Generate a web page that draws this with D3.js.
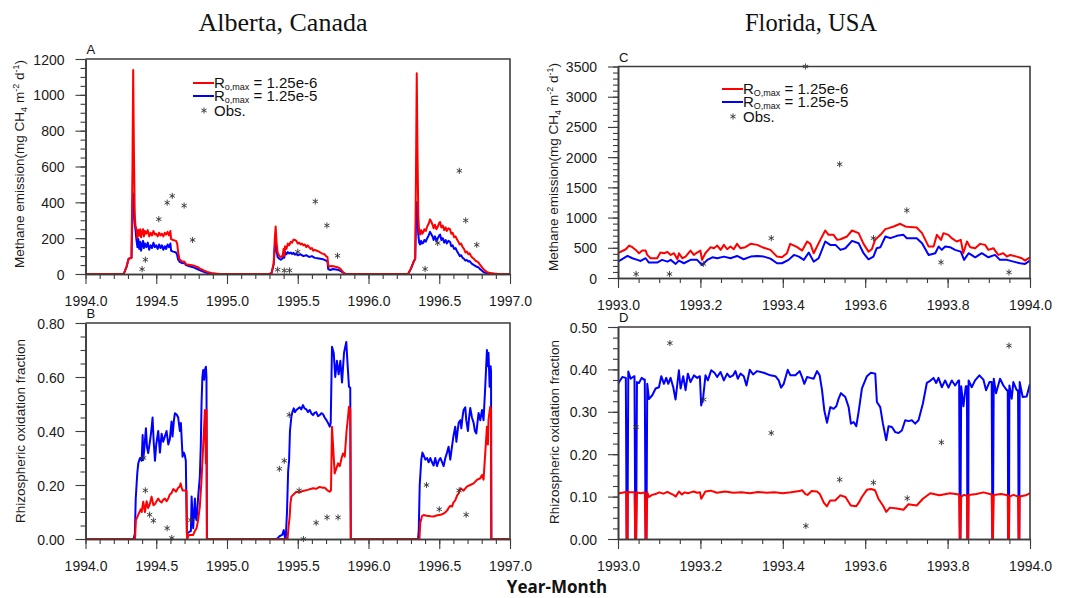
<!DOCTYPE html>
<html><head><meta charset="utf-8">
<script src="https://cdn.jsdelivr.net/npm/d3@7/dist/d3.min.js"></script>
<style>body{margin:0;background:#fff;} svg{display:block;font-family:"Liberation Sans",Arial,Helvetica,sans-serif;}</style>
</head><body><svg id="c" width="1066" height="598"></svg>
<script>
// ---------------- tick labels ----------------
const albertaXTicks = [1994.0,1994.5,1995.0,1995.5,1996.0,1996.5,1997.0];
const floridaXTicks = [1993.0,1993.2,1993.4,1993.6,1993.8,1994.0];
const emisAYTicks = [0,200,400,600,800,1000,1200];
const fracBYTicks = [0,0.2,0.4,0.6,0.8];
const emisCYTicks = [0,500,1000,1500,2000,2500,3000,3500];
const fracDYTicks = [0,0.1,0.2,0.3,0.4,0.5];
const legendLow = "1.25e-6", legendHigh = "1.25e-5";

// ---------------- Panel A: Alberta methane emission ----------------
const albertaEmisLow = [
[1994.0,0],[1994.27,0],[1994.29,40],[1994.305,85],[1994.325,90],[1994.332,600],[1994.337,1139],[1994.342,700],[1994.348,330],[1994.353,270],[1994.36,250],[1994.367,200],[1994.373,245],[1994.38,215],[1994.387,250],[1994.393,205],[1994.4,235],[1994.407,250],[1994.413,210],[1994.42,240],[1994.43,225],[1994.44,245],[1994.45,210],[1994.46,230],[1994.47,215],[1994.48,240],[1994.49,220],[1994.5,225],[1994.51,210],[1994.52,230],[1994.53,215],[1994.54,225],[1994.55,210],[1994.56,230],[1994.57,220],[1994.58,235],[1994.59,215],[1994.6,240],[1994.605,195],[1994.62,190],[1994.64,185],[1994.648,170],[1994.655,120],[1994.665,80],[1994.68,72],[1994.7,68],[1994.71,55],[1994.73,52],[1994.76,48],[1994.79,40],[1994.81,30],[1994.835,20],[1994.86,12],[1994.89,6],[1994.93,2],[1994.95,0],
[1995.3,0],[1995.315,5],[1995.33,60],[1995.338,200],[1995.344,265],[1995.35,180],[1995.358,120],[1995.37,100],[1995.38,95],[1995.39,100],[1995.395,110],[1995.4,140],[1995.405,100],[1995.41,155],[1995.42,140],[1995.43,170],[1995.44,160],[1995.45,180],[1995.46,175],[1995.47,192],[1995.48,190],[1995.49,185],[1995.5,170],[1995.51,175],[1995.52,165],[1995.53,170],[1995.54,160],[1995.55,165],[1995.56,150],[1995.57,160],[1995.58,150],[1995.59,140],[1995.6,145],[1995.61,130],[1995.62,135],[1995.635,130],[1995.65,125],[1995.66,120],[1995.67,115],[1995.68,112],[1995.69,110],[1995.7,100],[1995.71,95],[1995.715,50],[1995.725,42],[1995.74,45],[1995.76,42],[1995.78,38],[1995.8,30],[1995.81,20],[1995.82,10],[1995.83,4],[1995.84,0],
[1996.28,0],[1996.3,30],[1996.32,70],[1996.33,85],[1996.336,600],[1996.341,1120],[1996.346,700],[1996.352,320],[1996.358,240],[1996.365,220],[1996.372,245],[1996.38,225],[1996.388,235],[1996.395,250],[1996.405,240],[1996.415,265],[1996.425,280],[1996.435,305],[1996.445,290],[1996.455,270],[1996.46,255],[1996.47,275],[1996.48,250],[1996.49,265],[1996.5,285],[1996.506,290],[1996.515,260],[1996.525,270],[1996.535,245],[1996.545,260],[1996.553,240],[1996.565,255],[1996.576,250],[1996.585,225],[1996.595,230],[1996.605,205],[1996.615,210],[1996.624,195],[1996.635,180],[1996.645,165],[1996.655,170],[1996.665,150],[1996.675,140],[1996.685,120],[1996.695,125],[1996.706,110],[1996.715,115],[1996.725,100],[1996.735,90],[1996.745,85],[1996.755,75],[1996.765,70],[1996.776,65],[1996.785,55],[1996.8,40],[1996.815,25],[1996.835,12],[1996.86,5],[1996.9,2],[1996.92,0],[1997.0,0]];
const albertaEmisHigh = [
[1994.0,0],[1994.27,0],[1994.29,40],[1994.305,85],[1994.325,90],[1994.332,350],[1994.337,450],[1994.342,380],[1994.348,280],[1994.353,250],[1994.36,190],[1994.367,150],[1994.373,195],[1994.38,140],[1994.387,180],[1994.393,130],[1994.4,165],[1994.407,185],[1994.413,145],[1994.42,170],[1994.43,150],[1994.44,175],[1994.45,135],[1994.46,160],[1994.47,145],[1994.48,175],[1994.49,150],[1994.5,160],[1994.51,140],[1994.52,165],[1994.53,145],[1994.54,160],[1994.55,135],[1994.56,155],[1994.57,140],[1994.58,165],[1994.59,150],[1994.6,170],[1994.605,130],[1994.62,125],[1994.64,120],[1994.648,105],[1994.655,80],[1994.665,68],[1994.68,62],[1994.7,60],[1994.71,50],[1994.73,45],[1994.76,38],[1994.79,28],[1994.81,20],[1994.835,12],[1994.86,6],[1994.89,2],[1994.92,0],
[1995.3,0],[1995.315,5],[1995.33,55],[1995.338,150],[1995.344,180],[1995.35,130],[1995.358,95],[1995.37,85],[1995.38,80],[1995.39,85],[1995.395,95],[1995.4,120],[1995.405,90],[1995.41,125],[1995.42,110],[1995.43,122],[1995.44,115],[1995.45,120],[1995.46,112],[1995.47,118],[1995.48,108],[1995.49,112],[1995.5,105],[1995.52,110],[1995.54,100],[1995.56,105],[1995.58,95],[1995.6,100],[1995.62,90],[1995.64,88],[1995.66,85],[1995.68,82],[1995.7,75],[1995.71,70],[1995.715,28],[1995.73,22],[1995.75,28],[1995.77,25],[1995.79,22],[1995.8,18],[1995.815,10],[1995.83,3],[1995.84,0],
[1996.28,0],[1996.3,30],[1996.32,70],[1996.33,85],[1996.336,300],[1996.341,400],[1996.346,300],[1996.352,220],[1996.358,175],[1996.365,165],[1996.372,185],[1996.38,170],[1996.388,175],[1996.395,190],[1996.405,180],[1996.415,200],[1996.425,215],[1996.435,235],[1996.445,220],[1996.455,205],[1996.46,190],[1996.47,210],[1996.48,185],[1996.49,200],[1996.5,215],[1996.506,220],[1996.515,190],[1996.525,200],[1996.535,175],[1996.545,190],[1996.553,170],[1996.565,185],[1996.576,180],[1996.585,155],[1996.595,160],[1996.605,140],[1996.615,145],[1996.624,130],[1996.635,115],[1996.645,100],[1996.655,105],[1996.665,90],[1996.675,85],[1996.685,75],[1996.695,78],[1996.706,70],[1996.715,72],[1996.725,62],[1996.735,55],[1996.745,50],[1996.755,45],[1996.765,40],[1996.776,38],[1996.785,30],[1996.8,20],[1996.815,10],[1996.835,5],[1996.86,2],[1996.88,0],[1997.0,0]];
const albertaEmisObs = [[1994.40,27],[1994.423,80],[1994.518,306],[1994.577,398],[1994.613,436],[1994.697,382],[1994.757,190],[1995.358,24],[1995.405,19],[1995.442,20],[1995.50,124],[1995.624,405],[1995.706,271],[1995.781,102],[1996.40,28],[1996.489,173],[1996.642,576],[1996.687,299],[1996.765,163]];

// ---------------- Panel B: Alberta rhizospheric oxidation fraction ----------------
const albertaFracLow = [
[1994.0,0],[1994.35,0],[1994.356,0.07],[1994.365,0.08],[1994.373,0.09],[1994.39,0.11],[1994.397,0.10],[1994.408,0.138],[1994.42,0.10],[1994.432,0.14],[1994.443,0.115],[1994.455,0.13],[1994.467,0.157],[1994.48,0.125],[1994.491,0.13],[1994.514,0.15],[1994.526,0.14],[1994.538,0.135],[1994.549,0.145],[1994.561,0.15],[1994.573,0.14],[1994.585,0.15],[1994.596,0.165],[1994.608,0.17],[1994.62,0.185],[1994.632,0.18],[1994.639,0.175],[1994.655,0.19],[1994.667,0.195],[1994.672,0.206],[1994.68,0.19],[1994.686,0.18],[1994.714,0.18],[1994.718,0],[1994.73,0.015],[1994.761,0.015],[1994.773,0.03],[1994.785,0.04],[1994.796,0.07],[1994.808,0.12],[1994.82,0.22],[1994.832,0.35],[1994.844,0.478],[1994.851,0.28],[1994.855,0.478],[1994.858,0],
[1995.428,0],[1995.436,0.05],[1995.443,0.083],[1995.448,0.13],[1995.455,0.157],[1995.47,0.165],[1995.49,0.175],[1995.51,0.172],[1995.537,0.178],[1995.57,0.182],[1995.608,0.188],[1995.63,0.186],[1995.655,0.193],[1995.675,0.19],[1995.691,0.19],[1995.71,0.18],[1995.726,0.175],[1995.735,0.18],[1995.742,0.416],[1995.748,0.36],[1995.754,0.305],[1995.761,0.243],[1995.772,0.26],[1995.785,0.28],[1995.797,0.27],[1995.81,0.30],[1995.82,0.317],[1995.832,0.305],[1995.845,0.40],[1995.855,0.45],[1995.862,0.49],[1995.871,0.48],[1995.875,0],
[1996.36,0],[1996.366,0.06],[1996.378,0.085],[1996.39,0.089],[1996.41,0.086],[1996.425,0.085],[1996.44,0.084],[1996.46,0.083],[1996.475,0.086],[1996.496,0.089],[1996.51,0.09],[1996.531,0.094],[1996.545,0.10],[1996.555,0.105],[1996.566,0.115],[1996.578,0.123],[1996.59,0.12],[1996.6,0.135],[1996.613,0.143],[1996.625,0.16],[1996.637,0.169],[1996.651,0.188],[1996.672,0.179],[1996.695,0.194],[1996.719,0.20],[1996.743,0.206],[1996.766,0.219],[1996.79,0.225],[1996.802,0.237],[1996.813,0.22],[1996.825,0.317],[1996.837,0.416],[1996.844,0.35],[1996.848,0.44],[1996.86,0.49],[1996.866,0.48],[1996.868,0],[1997.0,0]];
const albertaFracHigh = [
[1994.0,0],[1994.34,0],[1994.349,0.02],[1994.355,0.15],[1994.366,0.244],[1994.373,0.28],[1994.385,0.30],[1994.397,0.29],[1994.404,0.385],[1994.408,0.293],[1994.415,0.33],[1994.427,0.41],[1994.435,0.34],[1994.443,0.318],[1994.455,0.36],[1994.465,0.40],[1994.474,0.45],[1994.482,0.36],[1994.491,0.29],[1994.5,0.35],[1994.514,0.40],[1994.526,0.32],[1994.538,0.39],[1994.549,0.36],[1994.561,0.38],[1994.573,0.40],[1994.585,0.35],[1994.596,0.37],[1994.608,0.435],[1994.615,0.38],[1994.625,0.44],[1994.632,0.466],[1994.645,0.46],[1994.655,0.45],[1994.667,0.40],[1994.674,0.43],[1994.686,0.305],[1994.695,0.32],[1994.702,0.31],[1994.709,0.29],[1994.716,0.02],[1994.73,0.025],[1994.745,0.03],[1994.75,0.157],[1994.755,0.10],[1994.761,0.04],[1994.773,0.15],[1994.779,0.08],[1994.785,0.07],[1994.796,0.155],[1994.808,0.23],[1994.815,0.35],[1994.82,0.50],[1994.826,0.60],[1994.832,0.626],[1994.839,0.59],[1994.846,0.63],[1994.851,0.638],[1994.855,0.6],[1994.858,0],
[1995.35,0],[1995.361,0.005],[1995.373,0.011],[1995.39,0.015],[1995.401,0.033],[1995.41,0.005],[1995.415,0],[1995.424,0.1],[1995.432,0.25],[1995.439,0.293],[1995.445,0.40],[1995.455,0.453],[1995.462,0.47],[1995.472,0.484],[1995.48,0.47],[1995.49,0.478],[1995.5,0.482],[1995.514,0.488],[1995.525,0.48],[1995.537,0.496],[1995.548,0.484],[1995.561,0.48],[1995.572,0.47],[1995.585,0.478],[1995.596,0.465],[1995.608,0.459],[1995.62,0.468],[1995.631,0.47],[1995.643,0.455],[1995.655,0.459],[1995.667,0.466],[1995.679,0.462],[1995.69,0.45],[1995.702,0.441],[1995.714,0.43],[1995.726,0.416],[1995.733,0.43],[1995.742,0.712],[1995.754,0.69],[1995.765,0.60],[1995.777,0.66],[1995.789,0.61],[1995.801,0.66],[1995.813,0.58],[1995.827,0.69],[1995.843,0.73],[1995.853,0.64],[1995.862,0.564],[1995.871,0.56],[1995.875,0],
[1996.35,0],[1996.355,0.03],[1996.362,0.2],[1996.373,0.293],[1996.381,0.32],[1996.39,0.31],[1996.402,0.294],[1996.414,0.30],[1996.425,0.284],[1996.437,0.30],[1996.448,0.285],[1996.46,0.272],[1996.472,0.30],[1996.484,0.27],[1996.496,0.29],[1996.508,0.30],[1996.52,0.285],[1996.531,0.27],[1996.543,0.30],[1996.555,0.32],[1996.566,0.342],[1996.578,0.294],[1996.59,0.342],[1996.6,0.38],[1996.613,0.416],[1996.621,0.36],[1996.63,0.40],[1996.637,0.43],[1996.649,0.44],[1996.656,0.41],[1996.664,0.45],[1996.672,0.478],[1996.684,0.488],[1996.691,0.44],[1996.703,0.40],[1996.711,0.45],[1996.719,0.485],[1996.731,0.45],[1996.743,0.43],[1996.752,0.40],[1996.762,0.391],[1996.77,0.43],[1996.778,0.467],[1996.79,0.44],[1996.802,0.478],[1996.813,0.44],[1996.825,0.564],[1996.837,0.70],[1996.844,0.64],[1996.848,0.69],[1996.856,0.564],[1996.863,0.64],[1996.866,0.62],[1996.868,0],[1997.0,0]];
const albertaFracObs = [[1994.41,0.30],[1994.423,0.18],[1994.453,0.09],[1994.48,0.068],[1994.577,0.04],[1994.61,0.004],[1994.745,0.07],[1995.37,0.26],[1995.405,0.29],[1995.44,0.46],[1995.51,0.18],[1995.54,0.0],[1995.63,0.06],[1995.707,0.08],[1995.785,0.08],[1996.41,0.20],[1996.50,0.11],[1996.64,0.18],[1996.69,0.09]];

// ---------------- Panel C: Florida methane emission ----------------
const floridaEmisLow = [
[1993.0,410],[1993.019,476],[1993.027,537],[1993.035,510],[1993.043,465],[1993.051,410],[1993.059,454],[1993.067,454],[1993.071,382],[1993.079,327],[1993.095,327],[1993.103,421],[1993.112,410],[1993.12,432],[1993.128,382],[1993.136,410],[1993.144,310],[1993.148,410],[1993.156,327],[1993.164,354],[1993.176,454],[1993.184,382],[1993.192,421],[1993.2,454],[1993.204,300],[1993.212,410],[1993.225,510],[1993.233,493],[1993.241,537],[1993.249,465],[1993.257,548],[1993.265,476],[1993.273,520],[1993.281,476],[1993.289,565],[1993.297,493],[1993.309,510],[1993.322,565],[1993.338,548],[1993.35,510],[1993.37,465],[1993.386,354],[1993.398,343],[1993.41,410],[1993.418,565],[1993.435,510],[1993.447,454],[1993.459,604],[1993.467,565],[1993.475,410],[1993.491,631],[1993.503,786],[1993.511,714],[1993.523,714],[1993.532,631],[1993.54,642],[1993.556,687],[1993.568,786],[1993.584,742],[1993.596,565],[1993.608,437],[1993.616,476],[1993.624,631],[1993.637,714],[1993.649,809],[1993.657,825],[1993.669,853],[1993.685,897],[1993.697,853],[1993.709,842],[1993.725,836],[1993.738,742],[1993.754,520],[1993.766,520],[1993.774,714],[1993.784,631],[1993.79,742],[1993.802,714],[1993.81,659],[1993.822,604],[1993.832,631],[1993.838,410],[1993.847,604],[1993.855,510],[1993.867,493],[1993.879,565],[1993.891,548],[1993.899,465],[1993.911,493],[1993.923,382],[1993.935,410],[1993.944,354],[1993.952,382],[1993.968,354],[1993.98,327],[1993.988,288],[1994.0,343]];
const floridaEmisHigh = [
[1993.0,271],[1993.023,365],[1993.035,327],[1993.047,300],[1993.055,282],[1993.067,327],[1993.075,255],[1993.095,255],[1993.107,300],[1993.12,271],[1993.128,300],[1993.14,233],[1993.148,288],[1993.16,244],[1993.176,300],[1993.192,300],[1993.204,216],[1993.217,300],[1993.229,343],[1993.241,327],[1993.257,354],[1993.273,327],[1993.289,365],[1993.305,310],[1993.322,354],[1993.338,365],[1993.354,354],[1993.37,321],[1993.386,244],[1993.398,244],[1993.414,300],[1993.427,382],[1993.439,354],[1993.451,300],[1993.463,421],[1993.475,271],[1993.487,327],[1993.503,604],[1993.515,548],[1993.528,548],[1993.54,465],[1993.552,493],[1993.568,615],[1993.584,576],[1993.596,410],[1993.608,310],[1993.62,354],[1993.628,493],[1993.637,510],[1993.649,687],[1993.661,659],[1993.677,698],[1993.693,714],[1993.701,659],[1993.725,659],[1993.738,576],[1993.754,382],[1993.77,410],[1993.778,520],[1993.786,465],[1993.794,520],[1993.806,510],[1993.818,465],[1993.832,437],[1993.84,300],[1993.851,410],[1993.867,343],[1993.883,410],[1993.899,343],[1993.915,382],[1993.927,300],[1993.944,300],[1993.96,271],[1993.976,244],[1993.988,233],[1994.0,288]];
const floridaEmisObs = [[1993.044,66],[1993.125,66],[1993.207,233],[1993.372,659],[1993.455,3500],[1993.538,1883],[1993.62,659],[1993.701,1119],[1993.784,260],[1993.949,94]];

// ---------------- Panel D: Florida rhizospheric oxidation fraction ----------------
const floridaFracLow = [
[1993.0,0.107],[1993.019,0.111],[1993.02,0.111],[1993.021,0],[1993.023,0],[1993.024,0.111],[1993.03,0.11],[1993.04,0.11],[1993.042,0],[1993.044,0],[1993.046,0.11],[1993.055,0.108],[1993.065,0.11],[1993.067,0],[1993.069,0],[1993.071,0.11],[1993.075,0.099],[1993.083,0.104],[1993.091,0.106],[1993.1,0.11],[1993.11,0.107],[1993.12,0.111],[1993.128,0.107],[1993.135,0.104],[1993.14,0.1],[1993.148,0.112],[1993.155,0.105],[1993.162,0.11],[1993.17,0.108],[1993.176,0.11],[1993.184,0.112],[1993.192,0.109],[1993.199,0.11],[1993.202,0.095],[1993.208,0.105],[1993.212,0.112],[1993.225,0.114],[1993.24,0.109],[1993.26,0.112],[1993.28,0.109],[1993.3,0.11],[1993.32,0.108],[1993.34,0.111],[1993.36,0.109],[1993.38,0.11],[1993.4,0.108],[1993.42,0.11],[1993.44,0.113],[1993.447,0.115],[1993.455,0.106],[1993.46,0.104],[1993.47,0.113],[1993.483,0.112],[1993.49,0.106],[1993.5,0.085],[1993.507,0.077],[1993.515,0.091],[1993.527,0.091],[1993.54,0.103],[1993.552,0.099],[1993.565,0.079],[1993.578,0.077],[1993.584,0.085],[1993.592,0.099],[1993.604,0.116],[1993.614,0.118],[1993.624,0.115],[1993.632,0.095],[1993.643,0.079],[1993.651,0.064],[1993.66,0.074],[1993.677,0.072],[1993.693,0.069],[1993.705,0.082],[1993.725,0.079],[1993.74,0.095],[1993.758,0.108],[1993.78,0.103],[1993.806,0.108],[1993.828,0.105],[1993.8296,0],[1993.831,0],[1993.833,0.1],[1993.84,0.104],[1993.847,0.102],[1993.848,0],[1993.85,0],[1993.851,0.104],[1993.87,0.106],[1993.887,0.11],[1993.907,0.105],[1993.9087,0],[1993.91,0],[1993.912,0.104],[1993.93,0.106],[1993.946,0.103],[1993.947,0],[1993.949,0],[1993.95,0.1],[1993.96,0.104],[1993.971,0.1],[1993.9725,0],[1993.974,0],[1993.975,0.1],[1993.99,0.103],[1994.0,0.108]];
const floridaFracHigh = [
[1993.0,0.366],[1993.0105,0.382],[1993.019,0.38],[1993.021,0],[1993.023,0],[1993.025,0.395],[1993.0307,0.378],[1993.0388,0.384],[1993.04,0.384],[1993.042,0],[1993.044,0],[1993.046,0.37],[1993.0509,0.368],[1993.0574,0.38],[1993.063,0.376],[1993.065,0.376],[1993.067,0],[1993.069,0],[1993.071,0.366],[1993.0751,0.33],[1993.0832,0.339],[1993.0913,0.355],[1993.0994,0.358],[1993.105,0.384],[1993.1115,0.366],[1993.1171,0.38],[1993.122,0.366],[1993.1276,0.38],[1993.1341,0.358],[1993.1397,0.329],[1993.1478,0.398],[1993.1519,0.355],[1993.1583,0.384],[1993.164,0.351],[1993.1696,0.39],[1993.1761,0.37],[1993.1842,0.386],[1993.1922,0.38],[1993.1987,0.384],[1993.2019,0.315],[1993.2068,0.335],[1993.2124,0.386],[1993.2181,0.374],[1993.2262,0.398],[1993.2342,0.392],[1993.2407,0.382],[1993.2488,0.394],[1993.2569,0.374],[1993.2649,0.39],[1993.2714,0.382],[1993.2795,0.386],[1993.2851,0.396],[1993.2908,0.378],[1993.2973,0.39],[1993.3053,0.384],[1993.3118,0.362],[1993.3199,0.399],[1993.328,0.388],[1993.3376,0.396],[1993.3538,0.392],[1993.37,0.386],[1993.3821,0.384],[1993.3901,0.374],[1993.3958,0.357],[1993.4023,0.366],[1993.412,0.399],[1993.4184,0.386],[1993.4305,0.386],[1993.441,0.396],[1993.4467,0.382],[1993.4523,0.366],[1993.4588,0.382],[1993.4669,0.38],[1993.475,0.378],[1993.483,0.396],[1993.4895,0.386],[1993.4952,0.351],[1993.5008,0.303],[1993.5073,0.274],[1993.5153,0.311],[1993.5234,0.307],[1993.5299,0.313],[1993.5355,0.331],[1993.5412,0.344],[1993.5517,0.335],[1993.5598,0.311],[1993.5654,0.272],[1993.5719,0.276],[1993.5784,0.266],[1993.584,0.30],[1993.5921,0.355],[1993.6042,0.384],[1993.6139,0.392],[1993.6244,0.39],[1993.6284,0.323],[1993.6365,0.311],[1993.643,0.272],[1993.6511,0.233],[1993.6567,0.266],[1993.6648,0.264],[1993.6729,0.252],[1993.6809,0.25],[1993.689,0.256],[1993.6971,0.28],[1993.7052,0.278],[1993.7132,0.28],[1993.7213,0.272],[1993.7294,0.28],[1993.7399,0.319],[1993.7496,0.368],[1993.7577,0.373],[1993.7658,0.38],[1993.7722,0.368],[1993.7779,0.38],[1993.786,0.358],[1993.794,0.374],[1993.8021,0.357],[1993.8102,0.374],[1993.8183,0.362],[1993.8263,0.374],[1993.828,0.374],[1993.8296,0],[1993.831,0],[1993.833,0.36],[1993.8384,0.313],[1993.8441,0.36],[1993.847,0.36],[1993.848,0],[1993.85,0],[1993.851,0.374],[1993.8586,0.358],[1993.8667,0.374],[1993.8772,0.386],[1993.8869,0.376],[1993.8934,0.351],[1993.9015,0.37],[1993.907,0.37],[1993.9087,0],[1993.91,0],[1993.912,0.378],[1993.9176,0.344],[1993.9273,0.378],[1993.9354,0.362],[1993.9435,0.351],[1993.946,0.351],[1993.947,0],[1993.949,0],[1993.95,0.362],[1993.9556,0.331],[1993.9596,0.37],[1993.9677,0.351],[1993.971,0.351],[1993.9725,0],[1993.974,0],[1993.975,0.37],[1993.9822,0.335],[1993.9919,0.336],[1994.0,0.366]];
const floridaFracObs = [[1993.044,0.264],[1993.126,0.462],[1993.208,0.329],[1993.372,0.25],[1993.456,0.031],[1993.538,0.14],[1993.62,0.133],[1993.702,0.096],[1993.785,0.228],[1993.949,0.456]];

// ---------------- drawing ----------------
const svg = d3.select("#c");
const SANS = '"Liberation Sans",Arial,Helvetica,sans-serif';
const RED = "#ff0000", BLUE = "#0000ff", AX = "#3c3c3c";
const star = d3.symbol(d3.symbolAsterisk, 26);

function drawPanel(p) {
  const x = d3.scaleLinear().domain([p.xTicks[0], p.xTicks[p.xTicks.length-1]]).range([p.l, p.r]);
  const y = d3.scaleLinear().domain([p.yTicks[0], p.yTicks[p.yTicks.length-1]]).range([p.b, p.t]);
  const id = "clip" + p.letter;
  svg.append("clipPath").attr("id", id).append("rect")
    .attr("x", p.l).attr("y", p.t - 1).attr("width", p.r - p.l).attr("height", p.b - p.t + 2);
  const line = d3.line().x(d => x(d[0])).y(d => y(d[1]));
  const g = svg.append("g").attr("clip-path", `url(#${id})`);
  g.append("path").datum(p.high).attr("d", line).attr("fill","none").attr("stroke",BLUE).attr("stroke-width",2).attr("stroke-linejoin","round");
  g.append("path").datum(p.low).attr("d", line).attr("fill","none").attr("stroke",RED).attr("stroke-width",2).attr("stroke-linejoin","round");
  svg.append("g").selectAll("path").data(p.obs).join("path")
    .attr("transform", d => `translate(${x(d[0])},${y(d[1])})`)
    .attr("d", star).attr("fill","none").attr("stroke","#333").attr("stroke-width",0.9);

  const xd = x.domain(), yd = y.domain();
  const xMinor = d3.range(0, Math.round((xd[1]-xd[0])/p.xMinorStep)+1).map(i => xd[0] + i*p.xMinorStep);
  const yMinor = d3.range(0, Math.round((yd[1]-yd[0])/p.yMinorStep)+1).map(i => yd[0] + i*p.yMinorStep);

  const style = sel => {
    sel.attr("font-family", null).attr("font-size", null);
    sel.selectAll("line").attr("stroke", AX).attr("stroke-width", 1.1);
    sel.select(".domain").attr("stroke", AX).attr("stroke-width", 1.6);
    sel.selectAll("text").style("font-size", "14px").style("font-family", SANS).attr("fill", "#1a1a1a");
  };
  svg.append("g").attr("transform", `translate(0,${p.b})`)
    .call(d3.axisBottom(x).tickValues(xMinor).tickSize(5).tickSizeOuter(0).tickFormat("")).call(style);
  const xa = svg.append("g").attr("transform", `translate(0,${p.b})`)
    .call(d3.axisBottom(x).tickValues(p.xTicks).tickSize(10).tickSizeOuter(0).tickFormat(d3.format(".1f"))).call(style);
  xa.selectAll("text").attr("y", 32).attr("dy", 0);
  svg.append("g").attr("transform", `translate(${p.l},0)`)
    .call(d3.axisLeft(y).tickValues(yMinor).tickSize(5).tickSizeOuter(0).tickFormat("")).call(style);
  const ya = svg.append("g").attr("transform", `translate(${p.l},0)`)
    .call(d3.axisLeft(y).tickValues(p.yTicks).tickSize(10).tickPadding(11).tickSizeOuter(0).tickFormat(d3.format(p.yFmt))).call(style);
  ya.selectAll("text").attr("dy", "0.36em");
  svg.append("path").attr("d", `M${p.l},${p.t}H${p.r}V${p.b}`).attr("fill","none").attr("stroke",AX).attr("stroke-width",1.6);

  svg.append("text").attr("x", p.l + 1).attr("y", p.t - 5).style("font-size", "13px").style("font-family", SANS).attr("fill","#111").text(p.letter);

  const yl = svg.append("text").attr("transform", `translate(${p.labelX},${p.labelY}) rotate(-90)`)
    .attr("text-anchor","middle").style("font-size","13.5px").style("font-family", SANS).attr("fill","#1a1a1a");
  if (p.emission) {
    yl.append("tspan").text("Methane emission(mg CH");
    yl.append("tspan").style("font-size","9px").attr("dy",3).text("4");
    yl.append("tspan").attr("dy",-3).text(" m");
    yl.append("tspan").style("font-size","9px").attr("dy",-5).text("-2");
    yl.append("tspan").attr("dy",5).text(" d");
    yl.append("tspan").style("font-size","9px").attr("dy",-5).text("-1");
    yl.append("tspan").attr("dy",5).text(")");
  } else {
    yl.text("Rhizospheric oxidation fraction");
  }

  if (p.legend) {
    const L = p.legend;
    const items = [[RED, legendLow, L.y0], [BLUE, legendHigh, L.y0 + L.dy]];
    items.forEach(([c, val, yy]) => {
      svg.append("line").attr("x1", L.x).attr("x2", L.x + 21).attr("y1", yy).attr("y2", yy).attr("stroke", c).attr("stroke-width", 2);
      const t = svg.append("text").attr("x", L.x + 21).attr("y", yy + 4.5).style("font-size","15px").style("font-family", SANS).attr("fill","#111");
      t.append("tspan").text("R");
      t.append("tspan").style("font-size","9px").attr("dy", 2).text(L.sub);
      t.append("tspan").attr("dy", -2).text(" = " + val);
    });
    const sy = L.y0 + 2*L.dy + 1.5;
    svg.append("path").attr("transform", `translate(${L.x + 11},${sy})`).attr("d", star).attr("fill","none").attr("stroke","#333").attr("stroke-width",0.9);
    svg.append("text").attr("x", L.x + 21).attr("y", sy + 5.5).style("font-size","15px").style("font-family", SANS).attr("fill","#111").text("Obs.");
  }
}

drawPanel({letter:"A", l:85.5, r:510, t:59, b:274, xTicks:albertaXTicks, yTicks:emisAYTicks, xMinorStep:0.1, yMinorStep:50, yFmt:"d",
  low:albertaEmisLow, high:albertaEmisHigh, obs:albertaEmisObs, emission:true, labelX:24, labelY:164,
  legend:{x:193, y0:83, dy:13, sub:"o,max"}});
drawPanel({letter:"B", l:85.5, r:510, t:323, b:539, xTicks:albertaXTicks, yTicks:fracBYTicks, xMinorStep:0.1, yMinorStep:0.05, yFmt:".2f",
  low:albertaFracLow, high:albertaFracHigh, obs:albertaFracObs, emission:false, labelX:25, labelY:431});
drawPanel({letter:"C", l:618, r:1030, t:66.5, b:278, xTicks:floridaXTicks, yTicks:emisCYTicks, xMinorStep:0.05, yMinorStep:100, yFmt:"d",
  low:floridaEmisLow, high:floridaEmisHigh, obs:floridaEmisObs, emission:true, labelX:558, labelY:167,
  legend:{x:722, y0:89, dy:13, sub:"O,max"}});
drawPanel({letter:"D", l:618, r:1030, t:327, b:539, xTicks:floridaXTicks, yTicks:fracDYTicks, xMinorStep:0.05, yMinorStep:0.025, yFmt:".2f",
  low:floridaFracLow, high:floridaFracHigh, obs:floridaFracObs, emission:false, labelX:559, labelY:432});

const SERIF = '"Liberation Serif","Times New Roman",serif';
svg.append("text").attr("x", 283).attr("y", 31).attr("text-anchor","middle").style("font-size","26px")
  .style("font-family", SERIF).attr("fill","#111").text("Alberta, Canada");
svg.append("text").attr("x", 811).attr("y", 31).attr("text-anchor","middle").style("font-size","24.5px")
  .style("font-family", SERIF).attr("fill","#111").text("Florida, USA");
svg.append("text").attr("x", 557).attr("y", 593).attr("text-anchor","middle").style("font-size","17px").style("font-weight","bold")
  .style("font-family", '"Open Sans","Noto Sans",sans-serif').attr("fill","#111").text("Year-Month");
</script></body></html>
